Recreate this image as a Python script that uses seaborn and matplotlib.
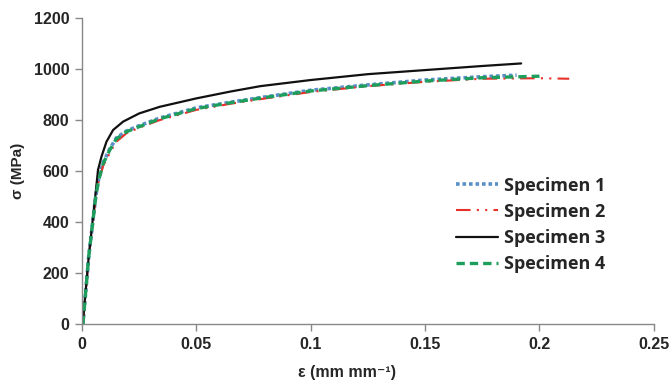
import matplotlib
matplotlib.use("Agg")
import matplotlib.pyplot as plt
import seaborn as sns
import pandas as pd

# Specimen data (strain, stress MPa)
strain_1 = [0.0004, 0.003, 0.006, 0.0072, 0.0092, 0.0121, 0.015, 0.0194, 0.025, 0.034, 0.05, 0.065, 0.078, 0.1, 0.125, 0.15, 0.175, 0.19]
stress_1 = [0, 270, 500, 565, 632, 686, 730, 757, 778, 808, 848, 870, 888, 917, 938, 957, 970, 976]

strain_2 = [0.0004, 0.003, 0.006, 0.0072, 0.0092, 0.0121, 0.015, 0.0194, 0.025, 0.034, 0.05, 0.065, 0.078, 0.1, 0.125, 0.15, 0.175, 0.2, 0.213]
stress_2 = [0, 265, 495, 555, 620, 670, 715, 748, 770, 800, 840, 864, 882, 910, 933, 950, 962, 964, 962]

strain_3 = [0.0003, 0.003, 0.0058, 0.007, 0.0085, 0.0107, 0.0136, 0.018, 0.025, 0.034, 0.05, 0.065, 0.078, 0.1, 0.125, 0.15, 0.175, 0.192]
stress_3 = [0, 270, 499, 604, 656, 715, 761, 794, 826, 852, 885, 912, 933, 957, 980, 996, 1012, 1022]

strain_4 = [0.0004, 0.003, 0.006, 0.0072, 0.0092, 0.0121, 0.015, 0.0194, 0.025, 0.034, 0.05, 0.065, 0.078, 0.1, 0.125, 0.15, 0.175, 0.2]
stress_4 = [0, 268, 498, 560, 628, 682, 726, 754, 774, 805, 845, 868, 886, 914, 935, 953, 966, 972]

labels = ["Specimen 1", "Specimen 2", "Specimen 3", "Specimen 4"]
x_ticks = [0, 0.05, 0.1, 0.15, 0.2, 0.25]
x_tick_labels = ["0", "0.05", "0.1", "0.15", "0.2", "0.25"]
y_ticks = [0, 200, 400, 600, 800, 1000, 1200]

sns.set_theme(style="white")
plt.rcParams["font.family"] = ["Liberation Sans", "DejaVu Sans"]

fig = plt.figure(figsize=(6.72, 3.84), dpi=100)
ax = fig.add_axes([0.122, 0.156, 0.851, 0.797])

styles = [
    dict(color="#5b8fc7", linestyle=(0, (1.0, 0.8)), linewidth=2.6),
    dict(color="#e8302a", linestyle=(0, (7, 3, 1, 3, 1, 3)), linewidth=1.5),
    dict(color="#111111", linestyle="-", linewidth=1.6),
    dict(color="#1d9e5c", linestyle=(0, (2.5, 1.5)), linewidth=2.4),
]
series = [(strain_1, stress_1), (strain_2, stress_2), (strain_3, stress_3), (strain_4, stress_4)]
for (xs, ys), lab, st in zip(series, labels, styles):
    df = pd.DataFrame({"strain": xs, "stress": ys})
    sns.lineplot(data=df, x="strain", y="stress", ax=ax, label=lab, sort=False, **st)

ax.set_xlim(0, 0.25)
ax.set_ylim(0, 1200)
ax.set_xticks(x_ticks)
ax.set_xticklabels(x_tick_labels)
ax.set_yticks(y_ticks)
for sp in ["top", "right"]:
    ax.spines[sp].set_visible(False)
for sp in ["left", "bottom"]:
    ax.spines[sp].set_color("#888888")
    ax.spines[sp].set_linewidth(1.0)
ax.tick_params(axis="both", direction="out", length=5, width=1, color="#888888",
               labelsize=11.5, pad=4, bottom=True, left=True)
for t in ax.get_xticklabels() + ax.get_yticklabels():
    t.set_fontweight("bold")
ax.set_xlabel("ε (mm mm⁻¹)", fontsize=11.5, fontweight="bold")
ax.xaxis.set_label_coords(0.463, -0.135)
ax.set_ylabel("σ (MPa)", fontsize=11, fontweight="bold")
ax.yaxis.set_label_coords(-0.10, 0.5)

leg = ax.legend(loc="upper left", bbox_to_anchor=(0.626, 0.535), frameon=False,
                prop={"family": ["Open Sans", "DejaVu Sans"], "weight": "bold", "size": 13},
                handlelength=2.33, handletextpad=0.33, labelspacing=0.45)

fig.savefig("out.png", dpi=100)
